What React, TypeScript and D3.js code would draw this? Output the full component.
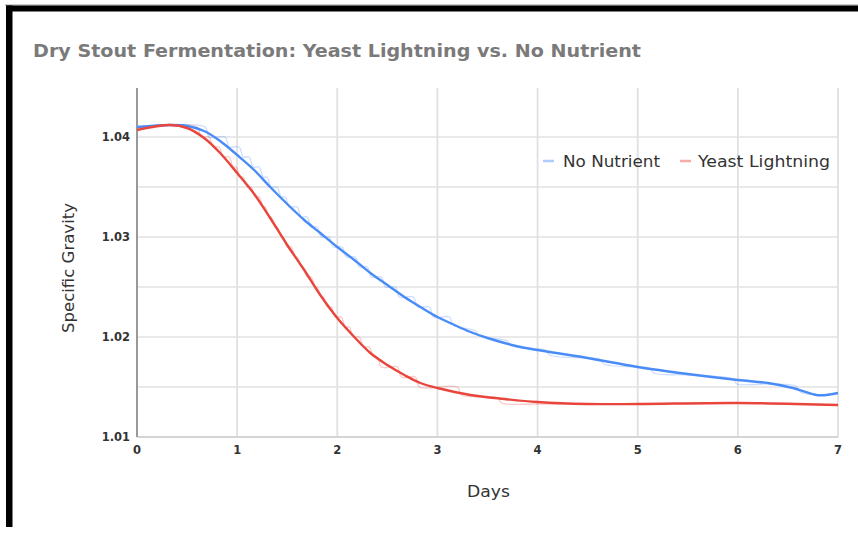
import React from "react";
import * as d3 from "d3";

const title = "Dry Stout Fermentation: Yeast Lightning vs. No Nutrient";
const xTicks = [0, 1, 2, 3, 4, 5, 6, 7];
const yTicks = [1.01, 1.02, 1.03, 1.04];
const yGrid = [1.015, 1.02, 1.025, 1.03, 1.035, 1.04];
const seriesNames = ["No Nutrient", "Yeast Lightning"];

// smoothed curves [day, specific gravity]
const noNutrientSmooth: [number, number][] = [
  [0, 1.041], [0.33, 1.0412], [0.5, 1.0411], [0.67, 1.0406], [0.83, 1.0396], [1.0, 1.0382],
  [1.17, 1.0367], [1.33, 1.035], [1.5, 1.0333], [1.67, 1.0317], [1.83, 1.0304], [2.0, 1.029],
  [2.17, 1.0277], [2.33, 1.0264], [2.5, 1.0252], [2.67, 1.024], [2.83, 1.023], [3.0, 1.022],
  [3.17, 1.0212], [3.33, 1.0205], [3.5, 1.0199], [3.67, 1.0194], [3.83, 1.019], [4.0, 1.0187],
  [4.5, 1.0179], [5.0, 1.017], [5.5, 1.0163], [6.0, 1.0157], [6.3, 1.0154], [6.55, 1.0149],
  [6.8, 1.01418], [7.0, 1.0144],
];
const yeastLightningSmooth: [number, number][] = [
  [0, 1.0407], [0.33, 1.0412], [0.5, 1.0409], [0.67, 1.0399], [0.83, 1.0384], [1.0, 1.0364],
  [1.17, 1.0343], [1.33, 1.0319], [1.5, 1.0292], [1.67, 1.0267], [1.83, 1.0242], [2.0, 1.0219],
  [2.17, 1.02], [2.33, 1.0184], [2.5, 1.0172], [2.67, 1.0162], [2.83, 1.0154], [3.0, 1.0149],
  [3.33, 1.0142], [3.67, 1.0138], [4.0, 1.0135], [4.5, 1.0133], [5.0, 1.0133], [6.0, 1.0134],
  [7.0, 1.0132],
];

// raw step readings [day, specific gravity]
const noNutrientRaw: [number, number][] = [
  [0, 1.041], [0.68, 1.041], [0.72, 1.04], [0.88, 1.04], [0.92, 1.039], [1.02, 1.039], [1.06, 1.038],
  [1.12, 1.038], [1.16, 1.037], [1.22, 1.037], [1.26, 1.036], [1.3, 1.036], [1.34, 1.035],
  [1.4, 1.035], [1.44, 1.034], [1.48, 1.034], [1.52, 1.033], [1.6, 1.033], [1.64, 1.032],
  [1.7, 1.032], [1.74, 1.031], [1.8, 1.031], [1.84, 1.03], [1.92, 1.03], [1.96, 1.029],
  [2.05, 1.029], [2.09, 1.028], [2.18, 1.028], [2.22, 1.027], [2.3, 1.027], [2.34, 1.026],
  [2.44, 1.026], [2.48, 1.025], [2.58, 1.025], [2.62, 1.024], [2.76, 1.024], [2.8, 1.023],
  [2.92, 1.023], [2.96, 1.022], [3.12, 1.022], [3.16, 1.0212], [3.38, 1.0206], [3.42, 1.0201],
  [3.7, 1.0196], [3.74, 1.0191], [4.0, 1.0188], [4.08, 1.0187], [4.12, 1.0182], [4.5, 1.0179],
  [4.62, 1.0178], [4.66, 1.0173], [5.0, 1.017], [5.12, 1.0169], [5.16, 1.0164], [5.5, 1.0162],
  [5.95, 1.0158], [5.99, 1.0153], [6.3, 1.0153], [6.58, 1.0151], [6.62, 1.0145], [6.8, 1.0142],
  [7.0, 1.0144],
];
const yeastLightningRaw: [number, number][] = [
  [0, 1.041], [0.6, 1.041], [0.64, 1.04], [0.72, 1.04], [0.76, 1.039], [0.82, 1.039],
  [0.86, 1.038], [0.92, 1.038], [0.96, 1.037], [0.99, 1.037], [1.03, 1.036], [1.06, 1.036],
  [1.1, 1.035], [1.14, 1.035], [1.18, 1.034], [1.22, 1.034], [1.26, 1.033], [1.28, 1.033],
  [1.32, 1.032], [1.34, 1.032], [1.38, 1.031], [1.4, 1.031], [1.44, 1.03], [1.46, 1.03],
  [1.5, 1.029], [1.54, 1.029], [1.58, 1.028], [1.6, 1.028], [1.64, 1.027], [1.66, 1.027],
  [1.7, 1.026], [1.74, 1.026], [1.78, 1.025], [1.8, 1.025], [1.84, 1.024], [1.86, 1.024],
  [1.9, 1.023], [1.94, 1.023], [1.98, 1.022], [2.04, 1.022], [2.08, 1.021], [2.12, 1.021],
  [2.16, 1.02], [2.22, 1.02], [2.26, 1.019], [2.32, 1.019], [2.36, 1.018], [2.4, 1.018],
  [2.44, 1.017], [2.6, 1.017], [2.64, 1.016], [2.78, 1.016], [2.82, 1.015], [3.2, 1.015],
  [3.24, 1.0142], [3.6, 1.0139], [3.64, 1.0134], [4.0, 1.0133], [4.5, 1.0133], [5.0, 1.0133],
  [6.0, 1.0134], [7.0, 1.0132],
];

const BLUE = "#4a8cf7";
const RED = "#e8463c";

export default function App() {
  const x = d3.scaleLinear().domain([0, 7]).range([137, 838]);
  const y = d3.scaleLinear().domain([1.01, 1.04]).range([437, 137]);
  const top = y(1.0449);

  const smooth = d3
    .line<[number, number]>()
    .x((d) => x(d[0]))
    .y((d) => y(d[1]))
    .curve(d3.curveCatmullRom.alpha(0.5));
  const raw = d3
    .line<[number, number]>()
    .x((d) => x(d[0]))
    .y((d) => y(d[1]))
    .curve(d3.curveCatmullRom.alpha(0.5));

  const fmt = d3.format(".2f");

  return (
    <svg
      width={858}
      height={535}
      style={{ position: "absolute", left: 0, top: 0, background: "#fff" }}
      fontFamily="'DejaVu Sans', Verdana, sans-serif"
    >
      <rect x={0} y={0} width={858} height={535} fill="#fff" />
      {/* frame */}
      <rect x={5} y={4.5} width={853} height={1} fill="#999" />
      <rect x={6} y={5.5} width={852} height={6} fill="#000" />
      <rect x={6} y={5.5} width={6.5} height={521.5} fill="#000" />

      <text
        x={33}
        y={57}
        fontFamily="'DejaVu Sans Condensed', 'DejaVu Sans', sans-serif"
        fontWeight="bold"
        fontSize={17.5}
        fill="#7a7a7a"
        textLength={608}
        lengthAdjust="spacingAndGlyphs"
      >
        {title}
      </text>

      {/* grid */}
      {yGrid.map((v) => (
        <line key={"h" + v} x1={x(0)} x2={x(7)} y1={y(v)} y2={y(v)} stroke="#e2e2e2" strokeWidth={1.6} />
      ))}
      {xTicks.slice(1).map((v) => (
        <line key={"v" + v} x1={x(v)} x2={x(v)} y1={top} y2={y(1.01)} stroke="#e0e0e0" strokeWidth={1.8} />
      ))}
      <line x1={x(0)} x2={x(7)} y1={y(1.01)} y2={y(1.01)} stroke="#d4d4d4" strokeWidth={1.8} />
      <line x1={x(0)} x2={x(0)} y1={top} y2={y(1.01)} stroke="#999" strokeWidth={2} />

      {/* raw lines */}
      <path d={raw(noNutrientRaw) || ""} fill="none" stroke={BLUE} strokeOpacity={0.28} strokeWidth={1.3} />
      <path d={raw(yeastLightningRaw) || ""} fill="none" stroke={RED} strokeOpacity={0.28} strokeWidth={1.3} />
      {/* smooth lines */}
      <path d={smooth(noNutrientSmooth) || ""} fill="none" stroke={BLUE} strokeWidth={2.4} />
      <path d={smooth(yeastLightningSmooth) || ""} fill="none" stroke={RED} strokeWidth={2.4} />

      {/* ticks */}
      {yTicks.map((v) => (
        <text key={"yt" + v} x={130} y={y(v) + 4} textAnchor="end" fontSize={11.5} fontWeight="bold" fill="#333">
          {fmt(v)}
        </text>
      ))}
      {xTicks.map((v) => (
        <text key={"xt" + v} x={x(v)} y={454} textAnchor="middle" fontSize={11.5} fontWeight="bold" fill="#333">
          {v}
        </text>
      ))}

      <text x={467} y={497} fontSize={15.5} fill="#333" textLength={43} lengthAdjust="spacingAndGlyphs">
        Days
      </text>
      <text
        transform={`translate(74,333) rotate(-90)`}
        fontSize={15.5}
        fill="#333"
        textLength={130}
        lengthAdjust="spacingAndGlyphs"
      >
        Specific Gravity
      </text>

      {/* legend */}
      <line x1={543} x2={554} y1={161} y2={161} stroke={BLUE} strokeOpacity={0.45} strokeWidth={2.5} />
      <text x={563} y={167} fontSize={15.5} fill="#333" textLength={97} lengthAdjust="spacingAndGlyphs">
        {seriesNames[0]}
      </text>
      <line x1={680} x2={691} y1={161} y2={161} stroke={RED} strokeOpacity={0.45} strokeWidth={2.5} />
      <text x={698} y={167} fontSize={15.5} fill="#333" textLength={132} lengthAdjust="spacingAndGlyphs">
        {seriesNames[1]}
      </text>
    </svg>
  );
}
